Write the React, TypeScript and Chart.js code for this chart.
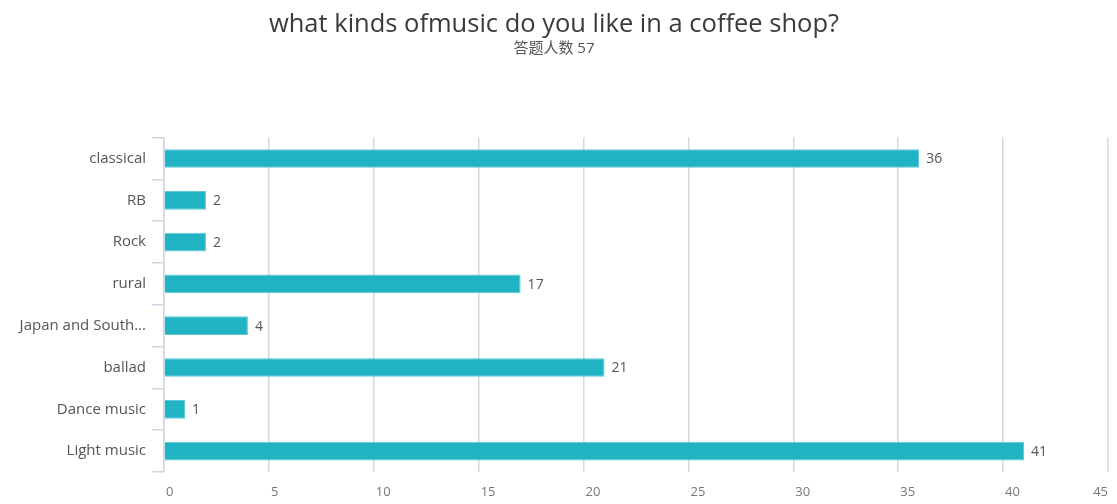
import React, { useEffect, useRef } from "react";
import { Chart, registerables } from "chart.js";

Chart.register(...registerables);

const titleText = "what kinds ofmusic do you like in a coffee shop?";
const subtitleText = "答题人数 57";
const categories = ["classical", "RB", "Rock", "rural", "Japan and South...", "ballad", "Dance music", "Light music"];
const counts = [36, 2, 2, 17, 4, 21, 1, 41];
const xMax = 45;
const xStep = 5;

const FONT = "'Open Sans', 'Noto Sans CJK SC', sans-serif";

const valueLabels = {
  id: "valueLabels",
  afterDatasetsDraw(chart: any) {
    const ctx = chart.ctx;
    const meta = chart.getDatasetMeta(0);
    ctx.save();
    ctx.font = `14px ${FONT}`;
    ctx.fillStyle = "#555555";
    ctx.textAlign = "left";
    ctx.textBaseline = "middle";
    meta.data.forEach((bar: any, i: number) => {
      ctx.fillText(String(counts[i]), bar.x + 7, bar.y + 1);
    });
    ctx.restore();
  },
};

const xTickLabels = {
  id: "xTickLabels",
  afterDraw(chart: any) {
    const ctx = chart.ctx;
    const scale = chart.scales.x;
    const area = chart.chartArea;
    ctx.save();
    ctx.font = `13px ${FONT}`;
    ctx.fillStyle = "#777777";
    ctx.textAlign = "left";
    ctx.textBaseline = "middle";
    scale.ticks.forEach((t: any) => {
      const label = String(t.value);
      const w = ctx.measureText(label).width;
      let x = scale.getPixelForValue(t.value) + 2;
      if (x + w > area.right) x = area.right - w;
      ctx.fillText(label, x, area.bottom + 20);
    });
    ctx.restore();
  },
};

export default function App() {
  const ref = useRef<HTMLCanvasElement | null>(null);
  useEffect(() => {
    if (!ref.current) return;
    const chart = new Chart(ref.current, {
      type: "bar",
      data: {
        labels: categories,
        datasets: [
          {
            data: counts,
            backgroundColor: "#20b3c3",
            borderColor: "#5cc9d5",
            borderWidth: 1,
            categoryPercentage: 0.86,
            barPercentage: 0.52,
          },
        ],
      },
      options: {
        indexAxis: "y",
        responsive: false,
        animation: false,
        layout: { padding: { left: 0, right: 9, top: 0, bottom: 0 } },
        plugins: {
          legend: { display: false },
          tooltip: { enabled: false },
          title: {
            display: true,
            text: titleText,
            color: "#3a3a3a",
            font: { family: FONT, size: 25.5, weight: "normal" },
            padding: { top: 9, bottom: 0 },
          },
          subtitle: {
            display: true,
            text: subtitleText,
            color: "#555555",
            font: { family: FONT, size: 15, weight: "normal" },
            padding: { top: 0, bottom: 80 },
          },
        },
        scales: {
          x: {
            min: 0,
            max: xMax,
            afterFit: (scale: any) => {
              scale.height = 32;
              scale.paddingRight = 0;
              scale.paddingLeft = 0;
            },
            ticks: {
              display: false,
              stepSize: xStep,
            },
            grid: { color: "#d8d8d8", lineWidth: 1.5, drawTicks: false },
            border: { display: false },
          },
          y: {
            afterFit: (scale: any) => {
              scale.width = 164;
            },
            ticks: {
              color: "#555555",
              font: { family: FONT, size: 15 },
              padding: 6,
            },
            grid: {
              drawOnChartArea: false,
              drawTicks: true,
              tickLength: 12,
              color: "#c9d8e8",
              lineWidth: 1.5,
            },
            border: { display: true, color: "#c9d8e8", width: 1.5 },
          },
        },
      },
      plugins: [valueLabels, xTickLabels],
    });
    return () => chart.destroy();
  }, []);
  return (
    <div style={{ position: "fixed", left: 0, top: 0, width: 1117, height: 504, background: "#fff" }}>
      <canvas ref={ref} width={1117} height={504} />
    </div>
  );
}
